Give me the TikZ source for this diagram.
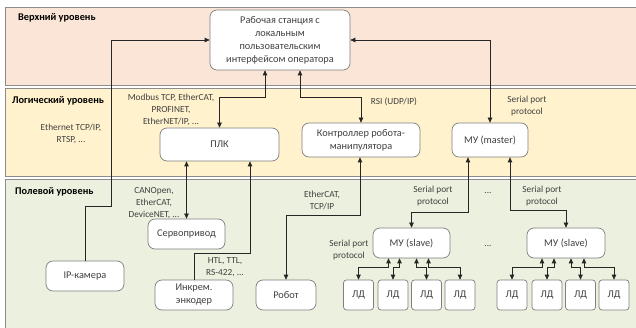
\documentclass[tikz,border=0pt]{standalone}
\usepackage{fontspec}
\setmainfont{Carlito}
\usetikzlibrary{arrows.meta}

\definecolor{uppband}{HTML}{FBE5D6}
\definecolor{logband}{HTML}{FFF2CC}
\definecolor{fldband}{HTML}{EBF1DE}
\definecolor{bandline}{HTML}{8C8C8C}
\definecolor{boxline}{HTML}{7F7F7F}
\definecolor{wire}{HTML}{262626}
\definecolor{txt}{HTML}{404040}

\begin{document}
\begin{tikzpicture}[x=1pt,y=-1pt,
  >={Triangle[length=5pt,width=4.5pt]},
  band/.style={draw=bandline, line width=0.8pt},
  box/.style={draw=boxline, fill=white, rounded corners=7pt, line width=0.7pt,
    align=center, inner sep=0pt, font=\fontsize{10.3}{13}\selectfont, text=txt},
  ldbox/.style={box, rounded corners=3pt, minimum width=30pt, minimum height=30pt},
  lbl/.style={align=center, font=\fontsize{9.3}{12}\selectfont, text=txt, inner sep=0pt},
  lvl/.style={anchor=west, font=\fontsize{10.3}{12}\selectfont\bfseries, inner sep=0pt},
  link/.style={draw=wire, line width=0.7pt}
]
\useasboundingbox (0,0) rectangle (636,328);

% level bands
\path[band, fill=uppband] (5,7) rectangle (645,85);
\path[band, fill=logband] (5,88) rectangle (645,176);
\path[band, fill=fldband] (5,179) rectangle (645,340);

\node[lvl] (lvlup) at (18,18) {Верхний уровень};
\node[lvl] (lvllog) at (12,101) {Логический уровень};
\node[lvl] (lvlfld) at (15,192) {Полевой уровень};

% devices
\node[box, minimum width=140pt, minimum height=60pt] (ws) at (280,40)
  {Рабочая станция с\\локальным\\пользовательским\\интерфейсом оператора};
\node[box, minimum width=119pt, minimum height=33pt] (plc) at (219.5,144.5) {ПЛК};
\node[box, minimum width=118pt, minimum height=34pt] (ctrl) at (361,140)
  {Контроллер робота-\\манипулятора};
\node[box, minimum width=76pt, minimum height=34pt] (master) at (490,140) {МУ (master)};
\node[box, minimum width=77pt, minimum height=30pt] (servo) at (186.5,234) {Сервопривод};
\node[box, minimum width=78pt, minimum height=30pt] (cam) at (85,276) {IP-камера};
\node[box, minimum width=78pt, minimum height=30pt] (enc) at (194,295) {Инкрем.\\энкодер};
\node[box, minimum width=60pt, minimum height=30pt] (robot) at (286,295) {Робот};
\node[box, minimum width=77pt, minimum height=30pt] (slaveA) at (411.5,243) {МУ (slave)};
\node[box, minimum width=78pt, minimum height=30pt] (slaveB) at (566,243) {МУ (slave)};

\node[ldbox] (ldA1) at (358.5,295) {ЛД};
\node[ldbox] (ldA2) at (393,295) {ЛД};
\node[ldbox] (ldA3) at (426.5,295) {ЛД};
\node[ldbox] (ldA4) at (460,295) {ЛД};
\node[ldbox] (ldB1) at (512,295) {ЛД};
\node[ldbox] (ldB2) at (547,295) {ЛД};
\node[ldbox] (ldB3) at (580.5,295) {ЛД};
\node[ldbox] (ldB4) at (614,295) {ЛД};

% protocol labels
\node[lbl] (pModbus) at (171,110) {Modbus TCP, EtherCAT,\\PROFINET,\\EtherNET/IP, ...};
\node[lbl] (pEth) at (71,134) {Ethernet TCP/IP,\\RTSP, ...};
\node[lbl] (pRsi) at (394,102) {RSI (UDP/IP)};
\node[lbl] (pSerM) at (527,106) {Serial port\\protocol};
\node[lbl] (pCan) at (154,203) {CANOpen,\\EtherCAT,\\DeviceNET, ...};
\node[lbl] (pHtl) at (225,267) {HTL, TTL,\\RS-422, ...};
\node[lbl] (pEcat) at (322,200) {EtherCAT,\\TCP/IP};
\node[lbl] (pSerA) at (433,196) {Serial port\\protocol};
\node[lbl] (pSerB) at (542,196) {Serial port\\protocol};
\node[lbl] (pSerL) at (349,250) {Serial port\\protocol};
\node[lbl] (dotsTop) at (488,193) {...};
\node[lbl] (dotsMid) at (488,246) {...};

% connectors
\coordinate (camBend) at (111,206);
\draw[link,->] (cam.north) |- (camBend) -- (camBend |- ws.west) -- (ws.west);
\draw[link,<->] ([xshift=-15pt]ws.south) -- ++(0,27) -| (plc.north);
\draw[link,<->] ([xshift=20pt]ws.south) -- ++(0,27) -| (ctrl.north);
\draw[link,<->] (ws.east) -| (master.north);

\draw[link,<->] (servo.north |- plc.south) -- (servo.north);
\draw[link,<-] ([xshift=30.5pt]plc.south) -- ++(0,92) -| (enc.north);
\draw[link,<->] ([xshift=-1pt]ctrl.south) -- ++(0,58) -| (robot.north);

\draw[link,<->] ([xshift=-22pt]master.south) -- ++(0,55) -| (slaveA.north);
\draw[link,<->] ([xshift=20pt]master.south) -- ++(0,53) -| (slaveB.north);

\foreach \s/\l/\o in {slaveA/ldA1/-23, slaveA/ldA2/-12, slaveA/ldA3/5, slaveA/ldA4/17,
                      slaveB/ldB1/-24, slaveB/ldB2/-12, slaveB/ldB3/5, slaveB/ldB4/18}
  \draw[link,<->] ([xshift=\o pt]\s.south) -- ++(0,9) -| (\l.north);
\end{tikzpicture}
\end{document}
